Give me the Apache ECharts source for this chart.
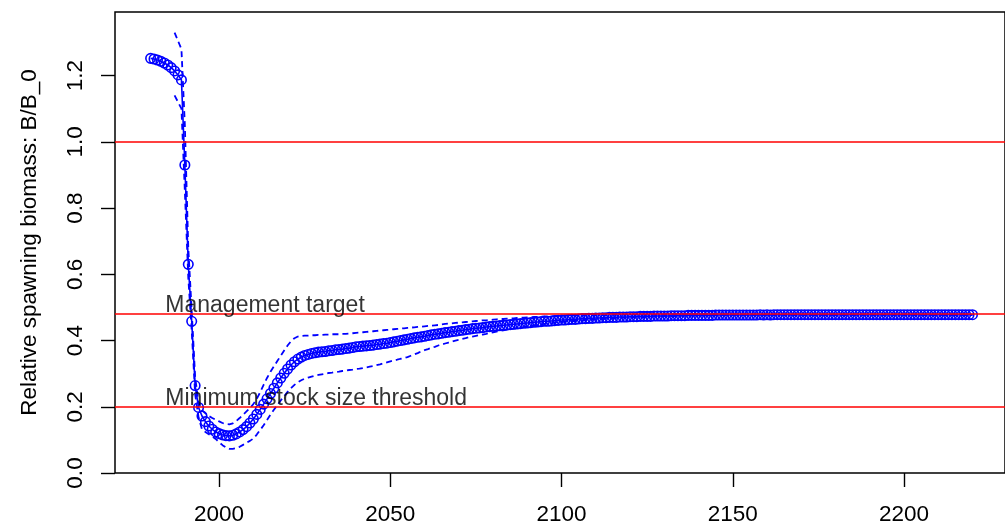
<!DOCTYPE html>
<html>
<head>
<meta charset="utf-8">
<script src="https://cdn.jsdelivr.net/npm/echarts@6.0.0/dist/echarts.min.js"></script>
<style>
html,body{margin:0;padding:0;background:#fff;}
#chart{width:1005px;height:526px;}
</style>
</head>
<body>
<div id="chart"></div>
<script>
// ---- data ----
const startYear = 1980;
const endYear = 2220;

// Relative spawning biomass (estimate), one value per year 1980..2220
const bMain = [
1.252,1.250,1.247,1.243,1.238,1.232,1.224,1.214,1.202,1.187,
0.930,0.630,0.458,0.264,0.198,0.172,0.155,0.142,0.132,0.124,
0.119,0.115,0.113,0.112,0.114,0.118,0.124,0.131,0.140,0.151,
0.163,0.177,0.192,0.208,0.224,0.240,0.256,0.272,0.287,0.301,
0.314,0.326,0.336,0.344,0.350,0.355,0.358,0.361,0.363,0.365,
0.366,0.367,0.369,0.370,0.372,0.373,0.374,0.376,0.377,0.379,
0.381,0.382,0.383,0.384,0.385,0.386,0.388,0.389,0.391,0.392,
0.394,0.396,0.398,0.400,0.402,0.404,0.406,0.408,0.410,0.411,
0.413,0.415,0.417,0.419,0.420,0.422,0.424,0.425,0.427,0.428,
0.430,0.431,0.433,0.434,0.436,0.437,0.438,0.439,0.441,0.442,
0.443,0.444,0.445,0.446,0.447,0.448,0.449,0.450,0.451,0.452,
0.453,0.454,0.455,0.456,0.457,0.458,0.458,0.459,0.460,0.461,
0.462,0.462,0.463,0.464,0.464,0.465,0.466,0.466,0.467,0.467,
0.468,0.468,0.469,0.469,0.470,0.470,0.470,0.471,0.471,0.471,
0.472,0.472,0.472,0.473,0.473,0.473,0.473,0.474,0.474,0.474,
0.474,0.474,0.475,0.475,0.475,0.475,0.475,0.476,0.476,0.476,
0.476,0.476,0.476,0.476,0.476,0.477,0.477,0.477,0.477,0.477,
0.477,0.477,0.477,0.477,0.477,0.477,0.477,0.477,0.478,0.477,
0.478,0.477,0.478,0.478,0.478,0.478,0.478,0.478,0.478,0.478,
0.478,0.478,0.478,0.478,0.478,0.478,0.478,0.478,0.478,0.478,
0.478,0.478,0.478,0.478,0.478,0.478,0.478,0.478,0.478,0.478,
0.478,0.478,0.478,0.478,0.478,0.478,0.478,0.478,0.478,0.478,
0.478,0.478,0.478,0.478,0.478,0.478,0.478,0.478,0.478,0.478,
0.478,0.478,0.478,0.478,0.478,0.478,0.478,0.478,0.478,0.478,0.478
];

// Upper interval (dashed), 1980..2220
const bUpper = [
null,null,null,null,null,null,null,1.330,1.305,1.280,
1.050,0.680,0.490,0.290,0.212,0.190,0.180,0.172,0.166,0.161,
0.156,0.151,0.148,0.147,0.150,0.157,0.166,0.176,0.186,0.196,
0.208,0.224,0.244,0.266,0.287,0.306,0.322,0.338,0.354,0.370,
0.385,0.398,0.407,0.412,0.414,0.415,0.415,0.416,0.416,0.417,
0.417,0.418,0.418,0.419,0.419,0.419,0.420,0.420,0.421,0.422,
0.423,0.424,0.425,0.426,0.427,0.428,0.429,0.430,0.431,0.432,
0.433,0.434,0.435,0.436,0.437,0.438,0.439,0.440,0.441,0.442,
0.443,0.444,0.445,0.446,0.447,0.449,0.450,0.451,0.452,0.453,
0.454,0.455,0.456,0.457,0.458,0.459,0.460,0.461,0.461,0.462,
0.463,0.464,0.465,0.465,0.466,0.467,0.467,0.468,0.469,0.469,
0.470,0.470,0.471,0.471,0.472,0.473,0.473,0.473,0.474,0.474,
0.475,0.475,0.475,0.476,0.476,0.476,0.476,0.477,0.477,0.477,
0.477,0.477,0.477,0.477,0.478,0.478,0.478,0.478,0.478,0.478,
0.478,0.478,0.478,0.478,0.478,0.478,0.478,0.478,0.478,0.478,
0.479,0.478,0.479,0.479,0.479,0.479,0.479,0.479,0.479,0.479,
0.479,0.479,0.479,0.479,0.479,0.479,0.479,0.479,0.479,0.479,
0.479,0.479,0.479,0.479,0.479,0.479,0.479,0.479,0.479,0.479,
0.479,0.479,0.479,0.479,0.479,0.479,0.479,0.479,0.479,0.479,
0.479,0.479,0.479,0.479,0.479,0.479,0.479,0.479,0.479,0.479,
0.479,0.479,0.479,0.479,0.479,0.479,0.479,0.479,0.479,0.479,
0.479,0.479,0.479,0.479,0.479,0.479,0.479,0.479,0.479,0.479,
0.479,0.479,0.479,0.479,0.479,0.479,0.479,0.479,0.479,0.479,
0.479,0.479,0.479,0.479,0.479,0.479,0.479,0.479,0.479,0.479,0.479
];

// Lower interval (dashed), 1980..2220
const bLower = [
null,null,null,null,null,null,null,1.140,1.120,1.100,
0.850,0.590,0.430,0.238,0.168,0.132,0.124,0.117,0.110,0.103,
0.093,0.084,0.077,0.073,0.073,0.075,0.079,0.085,0.091,0.097,
0.104,0.116,0.130,0.144,0.160,0.176,0.191,0.205,0.219,0.232,
0.245,0.256,0.266,0.274,0.280,0.285,0.288,0.291,0.294,0.296,
0.298,0.300,0.302,0.303,0.305,0.306,0.308,0.309,0.311,0.312,
0.314,0.315,0.317,0.319,0.321,0.323,0.326,0.328,0.331,0.334,
0.337,0.340,0.342,0.345,0.347,0.350,0.354,0.358,0.362,0.367,
0.371,0.374,0.378,0.381,0.385,0.388,0.391,0.394,0.397,0.400,
0.402,0.405,0.407,0.410,0.412,0.414,0.416,0.418,0.420,0.423,
0.425,0.427,0.429,0.431,0.433,0.435,0.436,0.438,0.440,0.441,
0.443,0.444,0.446,0.447,0.449,0.450,0.451,0.452,0.454,0.455,
0.456,0.457,0.458,0.459,0.459,0.460,0.461,0.462,0.463,0.463,
0.464,0.465,0.465,0.466,0.466,0.467,0.468,0.468,0.469,0.469,
0.470,0.470,0.470,0.471,0.471,0.472,0.472,0.472,0.473,0.473,
0.474,0.474,0.474,0.474,0.475,0.475,0.475,0.475,0.475,0.476,
0.476,0.476,0.476,0.476,0.476,0.476,0.477,0.477,0.477,0.477,
0.477,0.477,0.477,0.477,0.477,0.477,0.477,0.477,0.477,0.477,
0.477,0.477,0.477,0.477,0.477,0.477,0.477,0.477,0.477,0.477,
0.477,0.477,0.477,0.477,0.477,0.477,0.477,0.477,0.477,0.477,
0.477,0.477,0.477,0.477,0.477,0.477,0.477,0.477,0.477,0.477,
0.477,0.477,0.477,0.477,0.477,0.477,0.477,0.477,0.477,0.477,
0.477,0.477,0.477,0.477,0.477,0.477,0.477,0.477,0.477,0.477,
0.477,0.477,0.477,0.477,0.477,0.477,0.477,0.477,0.477,0.477,0.477
];

// Reference lines and their labels
const refLines = [1.0, 0.48, 0.2];
const refLabels = ['Management target', 'Minimum stock size threshold'];
const refLabelValues = [0.48, 0.2];
const refLabelYear = 1984.3;

// Axis ticks
const xTicks = [2000, 2050, 2100, 2150, 2200];
const yTicks = [0, 0.2, 0.4, 0.6, 0.8, 1.0, 1.2];
const yAxisTitle = 'Relative spawning biomass: B/B_0';

// ---- build ----
const years = [];
for (let y = startYear; y <= endYear; y++) years.push(y);
const pairs = arr => years.map((y, i) => [y, arr[i]]);

const FONT = 'Liberation Sans, Arial, sans-serif';
const FS = 22.5;
const chart = echarts.init(document.getElementById('chart'), null, {renderer: 'canvas'});
chart.setOption({
  animation: false,
  backgroundColor: '#ffffff',
  grid: {
    left: 115, right: -12, top: 12, bottom: 50.5,
    show: true, borderColor: '#000', borderWidth: 1.5, backgroundColor: 'transparent'
  },
  xAxis: {
    type: 'value', min: 1969.6, max: 2229.5,
    axisLine: {show: false},
    splitLine: {show: false},
    axisTick: {show: true, customValues: xTicks, length: 14, inside: false, lineStyle: {color: '#000', width: 1.4}},
    axisLabel: {show: true, customValues: xTicks, margin: 30, color: '#000', fontSize: FS, fontFamily: FONT,
      formatter: v => String(v)}
  },
  yAxis: {
    type: 'value', min: 0, max: 1.392,
    axisLine: {show: false},
    splitLine: {show: false},
    axisTick: {show: true, customValues: yTicks, length: 14, inside: false, lineStyle: {color: '#000', width: 1.4}},
    axisLabel: {show: true, customValues: yTicks, margin: 28, rotate: 90, color: '#000', fontSize: FS, fontFamily: FONT,
      formatter: v => v.toFixed(1)},
    name: yAxisTitle, nameLocation: 'middle', nameGap: 74, nameRotate: 90,
    nameTextStyle: {color: '#000', fontSize: FS, fontFamily: FONT}
  },
  series: [
    {
      type: 'line', data: [], z: 1, silent: true,
      markLine: {
        silent: true, symbol: 'none', animation: false,
        label: {show: false},
        lineStyle: {color: '#ff0000', type: 'solid', width: 1.5},
        data: refLines.map(v => ({yAxis: v}))
      }
    },
    {
      name: 'B/B0', type: 'line', data: pairs(bMain), z: 3,
      symbol: 'circle', symbolSize: 9.5, showSymbol: true, showAllSymbol: true,
      itemStyle: {color: 'rgba(0,0,0,0)', borderColor: '#0000ff', borderWidth: 1.6},
      lineStyle: {color: '#0000ff', width: 1.6},
      emphasis: {disabled: true}
    },
    {
      name: 'upper', type: 'line', data: pairs(bUpper), z: 3, symbol: 'none', connectNulls: false,
      lineStyle: {color: '#0000ff', width: 1.8, type: [6, 4]}
    },
    {
      name: 'lower', type: 'line', data: pairs(bLower), z: 3, symbol: 'none', connectNulls: false,
      lineStyle: {color: '#0000ff', width: 1.8, type: [6, 4]}
    },
    {
      type: 'scatter', z: 5, silent: true, symbolSize: 0,
      data: refLabels.map((t, i) => ({name: t, value: [refLabelYear, refLabelValues[i]]})),
      label: {
        show: true, position: [0, 3], align: 'left', verticalAlign: 'bottom',
        formatter: p => p.name, color: '#000', fontSize: 23, fontFamily: FONT
      }
    }
  ]
});
</script>
</body>
</html>
